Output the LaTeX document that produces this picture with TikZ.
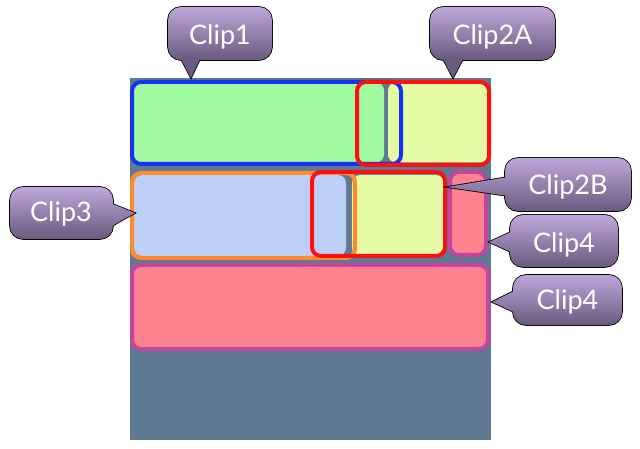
\documentclass[tikz,border=0pt]{standalone}
\usepackage{fontspec}
\setmainfont{Lato}
\definecolor{bgc}{HTML}{5E7A92}
\definecolor{greenf}{HTML}{A0FA9F}
\definecolor{yellowf}{HTML}{E5FBA6}
\definecolor{bluef}{HTML}{BCD0F7}
\definecolor{pinkf}{HTML}{FE8391}
\definecolor{magl}{HTML}{C4459B}
\definecolor{bluel}{HTML}{1432F5}
\definecolor{redl}{HTML}{FF1010}
\definecolor{orangel}{HTML}{FF8B2A}
\definecolor{btop}{HTML}{BDA7DA}
\definecolor{bbot}{HTML}{6A5A7E}
\begin{document}
\begin{tikzpicture}[x=1pt,y=-1pt,
 fillbox/.style={rounded corners=8pt, inner sep=0pt, draw=none},
 linebox/.style={rounded corners=9pt, inner sep=0pt, line width=4pt},
 bstroke/.style={draw=black, line width=1.6pt, line join=miter},
 bshade/.style={top color=btop, bottom color=bbot, draw=none},
 btext/.style={text=white, font=\fontsize{27}{30}\selectfont, inner sep=0pt, anchor=base},
]
\useasboundingbox (0,0) rectangle (640,449);
\fill[bgc] (130,78) rectangle (491,440);

% row 1
\node[fillbox, fill=greenf, minimum width=251pt, minimum height=80pt] (green) at (258.5,122.5) {};
\node[fillbox, fill=yellowf, minimum width=100pt, minimum height=80pt] (yellowA) at (438,122.5) {};
\node[linebox, draw=bluel, minimum width=269pt, minimum height=82pt] (clipA) at (266.5,123) {};
\node[linebox, draw=redl, minimum width=132pt, minimum height=83pt] (clipB) at (423,123.5) {};

% row 2
\node[fillbox, fill=bluef, minimum width=212pt, minimum height=81pt] (blue) at (240,215.5) {};
\node[fillbox, fill=yellowf, minimum width=92pt, minimum height=81pt] (yellowB) at (398,215.5) {};
\node[linebox, draw=orangel, minimum width=223pt, minimum height=85pt] (clipC) at (243.5,215.5) {};
\node[linebox, draw=redl, minimum width=133pt, minimum height=84pt] (clipD) at (378.5,214) {};
\node[linebox, draw=magl, fill=pinkf, minimum width=36pt, minimum height=83pt] (pinkS) at (468,213.5) {};

% row 3
\node[linebox, draw=magl, fill=pinkf, minimum width=356pt, minimum height=84pt] (pinkL) at (310,307) {};

% tail tips
\coordinate (t1) at (191,78);
\coordinate (t2a) at (453,78);
\coordinate (t3) at (135,213);
\coordinate (t2b) at (447,187);
\coordinate (t4a) at (489,242);
\coordinate (t4b) at (492,302);

% Clip1
\draw[bstroke, rounded corners=13pt] (168,7) rectangle (272,60);
\draw[bstroke] (180,57) -- (t1) -- (201,57);
\shade[bshade, rounded corners=13pt] (168,7) rectangle (272,60);
\fill[bbot] (180,57) -- (t1) -- (201,57) -- cycle;
\node[btext] (c1) at (220,45) {Clip1};

% Clip2A
\draw[bstroke, rounded corners=13pt] (430,7) rectangle (555,60);
\draw[bstroke] (442,57) -- (t2a) -- (464,57);
\shade[bshade, rounded corners=13pt] (430,7) rectangle (555,60);
\fill[bbot] (442,57) -- (t2a) -- (464,57) -- cycle;
\node[btext] (c2a) at (492.5,45) {Clip2A};

% Clip3
\draw[bstroke, rounded corners=13pt] (10,187) rectangle (113,239);
\draw[bstroke] (110,203) -- (t3) -- (110,227);
\shade[bshade, rounded corners=13pt] (10,187) rectangle (113,239);
\begin{scope}
\clip (110,203) -- (t3) -- (110,227) -- cycle;
\shade[bshade] (10,187) rectangle (136,239);
\end{scope}
\node[btext] (c3) at (61,222) {Clip3};

% Clip2B
\draw[bstroke, rounded corners=13pt] (505,158) rectangle (631,211);
\draw[bstroke] (508,177) -- (t2b) -- (508,196);
\shade[bshade, rounded corners=13pt] (505,158) rectangle (631,211);
\begin{scope}
\clip (508,177) -- (t2b) -- (508,196) -- cycle;
\shade[bshade] (446,158) rectangle (631,211);
\end{scope}
\node[btext] (c2b) at (568,195) {Clip2B};

% Clip4 upper
\draw[bstroke, rounded corners=13pt] (510,215) rectangle (618,267);
\draw[bstroke] (513,231) -- (t4a) -- (513,253);
\shade[bshade, rounded corners=13pt] (510,215) rectangle (618,267);
\begin{scope}
\clip (513,231) -- (t4a) -- (513,253) -- cycle;
\shade[bshade] (488,215) rectangle (618,267);
\end{scope}
\node[btext] (c4a) at (564,252) {Clip4};

% Clip4 lower
\draw[bstroke, rounded corners=13pt] (513,275) rectangle (622,325);
\draw[bstroke] (516,290) -- (t4b) -- (516,313);
\shade[bshade, rounded corners=13pt] (513,275) rectangle (622,325);
\begin{scope}
\clip (516,290) -- (t4b) -- (516,313) -- cycle;
\shade[bshade] (491,275) rectangle (622,325);
\end{scope}
\node[btext] (c4b) at (567.5,309) {Clip4};
\end{tikzpicture}
\end{document}
